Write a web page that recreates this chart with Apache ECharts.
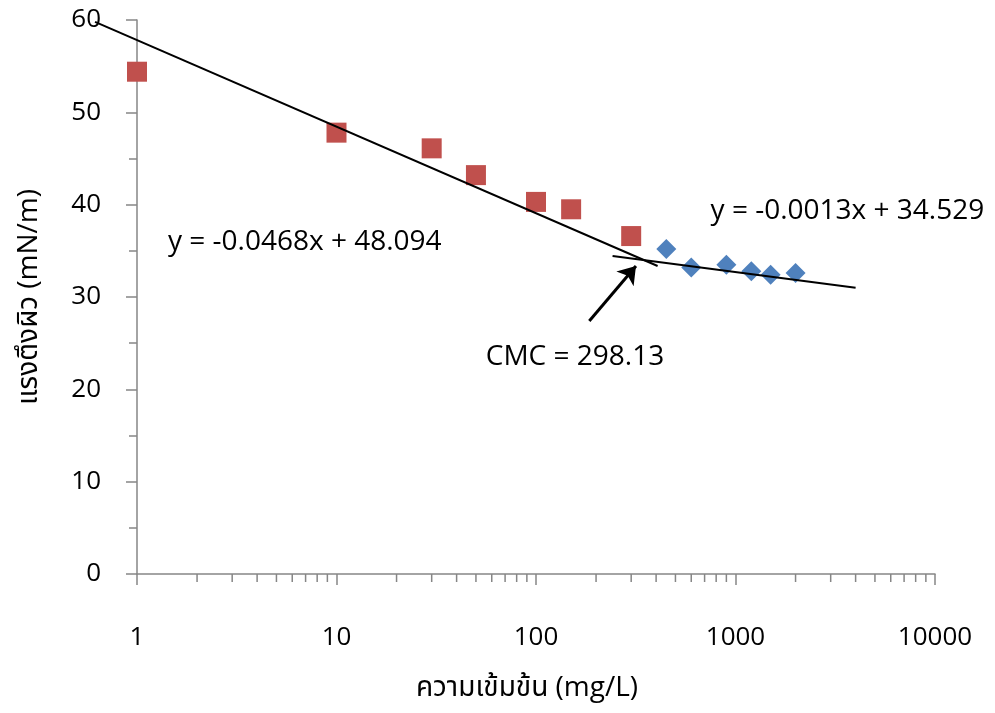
<!DOCTYPE html>
<html>
<head>
<meta charset="utf-8">
<script src="https://cdn.jsdelivr.net/npm/echarts@6/dist/echarts.min.js"></script>
<style>html,body{margin:0;padding:0;background:#fff}#c{width:995px;height:713px}</style>
</head>
<body>
<div id="c"></div>
<script>
// Data
const redX = [1, 10, 30, 50, 100, 150, 300];
const redY = [54.4, 47.8, 46.1, 43.2, 40.3, 39.5, 36.6];
const blueX = [450, 600, 900, 1200, 1500, 2000];
const blueY = [35.2, 33.2, 33.5, 32.8, 32.4, 32.6];
const trend1X = [0.616, 407];
const trend1Y = [59.8, 33.36];
const trend2X = [242, 4000];
const trend2Y = [34.44, 31.0];
const arrowFrom = [185, 27.4];
const arrowTo = [317, 33.36];
const eq1 = {x: 1.43, y: 35.9, text: 'y = -0.0468x + 48.094'};
const eq2 = {x: 750, y: 39.3, text: 'y = -0.0013x + 34.529'};
const cmc = {x: 56, y: 23.5, text: 'CMC = 298.13'};
const xTicks = [1, 10, 100, 1000, 10000];
const minorTicks = [];
for (let d = 1; d < 10000; d *= 10) for (let k = 2; k <= 9; k++) minorTicks.push(d * k);
const xTitle = 'ความเข้มข้น (mg/L)';
const yTitle = 'แรงตึงผิว (mN/m)';

const FONT = '"Open Sans", "Noto Sans", "Noto Sans Thai", "DejaVu Sans", sans-serif';
const AX = '#868686';
const TXT = '#000';
const chart = echarts.init(document.getElementById('c'), null, {renderer: 'canvas'});
const labelSeries = (p) => ({
  type: 'scatter', symbolSize: 0, silent: true, z: 5,
  itemStyle: {opacity: 1},
  data: [[p.x, p.y]],
  label: {show: true, position: 'right', distance: 0, formatter: p.text,
          color: TXT, opacity: 1, fontSize: 28, fontFamily: FONT}
});
const segSeries = (xs, ys, width) => ({
  type: 'custom', silent: true, z: 3, clip: false,
  data: xs.map((x, i) => [x, ys[i]]),
  renderItem: (params, api) => {
    if (params.dataIndex !== 0) return null;
    const pts = xs.map((x, i) => api.coord([x, ys[i]]));
    return {type: 'polyline', shape: {points: pts},
            style: {stroke: '#000', lineWidth: width, fill: null}};
  }
});
chart.setOption({
  animation: false,
  backgroundColor: '#fff',
  grid: {left: 137, right: 60, top: 20, bottom: 139, containLabel: false},
  xAxis: {
    type: 'log', logBase: 10, min: 1, max: 10000,
    name: xTitle, nameLocation: 'middle', nameGap: 100,
    nameTextStyle: {color: TXT, fontSize: 28, fontFamily: FONT, padding: [0, 18, 0, 0]},
    axisLine: {show: true, lineStyle: {color: AX, width: 1.5}},
    axisTick: {show: true, length: 11, lineStyle: {color: AX, width: 1.5}},
    axisLabel: {color: TXT, fontSize: 26, fontFamily: FONT, margin: 51,
                formatter: v => String(Math.round(v))},
    splitLine: {show: false}
  },
  yAxis: {
    type: 'value', min: 0, max: 60, interval: 10,
    name: yTitle, nameLocation: 'middle', nameGap: 94, nameRotate: 90,
    nameTextStyle: {color: TXT, fontSize: 28, fontFamily: FONT},
    axisLine: {show: true, lineStyle: {color: AX, width: 1.5}},
    axisTick: {show: true, length: 11, lineStyle: {color: AX, width: 1.5}},
    minorTick: {show: true, splitNumber: 2, length: 8, lineStyle: {color: AX, width: 1.5}},
    axisLabel: {color: TXT, fontSize: 26, fontFamily: FONT, margin: 36},
    splitLine: {show: false}
  },
  series: [
    {
      type: 'custom', silent: true, z: 1,
      data: minorTicks.map(v => [v, 0]),
      renderItem: (params, api) => {
        const p = api.coord([api.value(0), api.value(1)]);
        return {type: 'line', shape: {x1: p[0], y1: p[1], x2: p[0], y2: p[1] + 8},
                style: {stroke: AX, lineWidth: 1.5}};
      }
    },
    segSeries(trend1X, trend1Y, 2),
    segSeries(trend2X, trend2Y, 2),
    {
      type: 'scatter', symbol: 'rect', symbolSize: 20, z: 2,
      itemStyle: {color: '#C0504D', opacity: 1},
      data: redX.map((x, i) => [x, redY[i]])
    },
    {
      type: 'scatter', symbol: 'diamond', symbolSize: [20, 20], z: 2,
      itemStyle: {color: '#4F81BD', opacity: 1},
      data: blueX.map((x, i) => [x, blueY[i]])
    },
    {
      type: 'lines', coordinateSystem: 'cartesian2d', z: 4, silent: true,
      symbol: ['none', 'arrow'], symbolSize: 17,
      lineStyle: {color: '#000', width: 3, opacity: 1},
      data: [{coords: [arrowFrom, arrowTo]}]
    },
    labelSeries(eq1), labelSeries(eq2), labelSeries(cmc)
  ]
});
</script>
</body>
</html>
